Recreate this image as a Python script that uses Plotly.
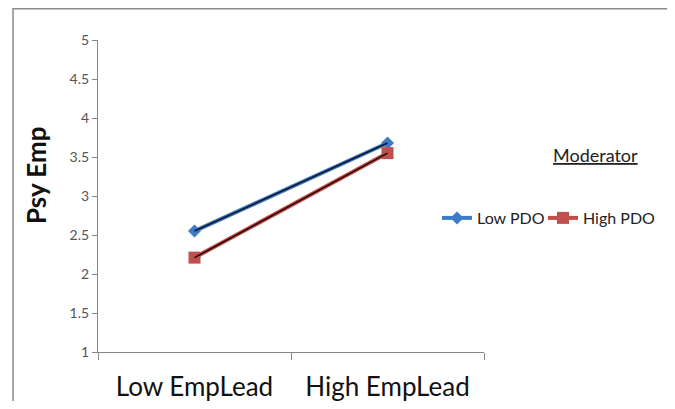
import plotly.graph_objects as go

categories = ["Low EmpLead", "High EmpLead"]
low_pdo = [2.55, 3.68]
high_pdo = [2.21, 3.55]
y_ticks = [1, 1.5, 2, 2.5, 3, 3.5, 4, 4.5, 5]
y_ticktext = ["1", "1.5", "2", "2.5", "3", "3.5", "4", "4.5", "5"]

FONT = "Lato"
fig = go.Figure()
fig.add_trace(go.Scatter(x=categories, y=low_pdo, mode="lines+markers", name="Low PDO",
                         line=dict(color="#3E7BC6", width=4), legend="legend",
                         marker=dict(symbol="diamond", size=10, color="#3E7BC6")))
fig.add_trace(go.Scatter(x=categories, y=low_pdo, mode="lines", showlegend=False,
                         line=dict(color="#10182A", width=1.6), hoverinfo="skip"))
fig.add_trace(go.Scatter(x=categories, y=high_pdo, mode="lines+markers", name="High PDO",
                         line=dict(color="#C84A46", width=4), legend="legend2",
                         marker=dict(symbol="square", size=12, color="#C0504D")))
fig.add_trace(go.Scatter(x=categories, y=high_pdo, mode="lines", showlegend=False,
                         line=dict(color="#200A0A", width=1.6), hoverinfo="skip"))


def px_x(p):
    return (p - 98) / 386


def px_y(p):
    return (352 - p) / 312


leg_common = dict(orientation="h", xanchor="left", yanchor="middle", y=px_y(218),
                  font=dict(size=16, family=FONT, color="#222"),
                  bgcolor="rgba(0,0,0,0)")

# plot area in page pixels: x 98..484, y 40..352 (page has 8px body margin)
fig.update_layout(
    width=666, height=393,
    margin=dict(l=90, r=190, t=32, b=49, autoexpand=False),
    paper_bgcolor="white", plot_bgcolor="white",
    font=dict(family=FONT, color="#222"),
    showlegend=True,
    legend=dict(x=px_x(437), **leg_common),
    legend2=dict(x=px_x(543), **leg_common),
    xaxis=dict(type="category", range=[-0.5, 1.5], showgrid=False, showline=True,
               linecolor="#868686", linewidth=1.2, ticks="outside", ticklen=7,
               tickcolor="#868686", tickson="boundaries", automargin=False,
               tickfont=dict(size=26, family=FONT, color="#111"), ticklabelstandoff=12),
    yaxis=dict(range=[1, 5], tickvals=y_ticks, ticktext=y_ticktext, showgrid=False,
               showline=True, linecolor="#868686", linewidth=1.2, ticks="outside",
               ticklen=5, tickcolor="#868686", zeroline=False, automargin=False,
               tickfont=dict(size=14, family=FONT, color="#555")),
    shapes=[dict(type="rect", xref="paper", yref="paper",
                 x0=px_x(13), x1=px_x(671.5),
                 y0=-0.3, y1=px_y(8.7), line=dict(color="#8C8C8C", width=1.5))],
    annotations=[
        dict(text="<u>Moderator</u>", xref="paper", yref="paper",
             x=px_x(595), y=px_y(155), xanchor="center", yanchor="middle",
             showarrow=False, font=dict(size=18, family=FONT, color="#222")),
        dict(text="<b>Psy Emp</b>", xref="paper", yref="paper", textangle=-90,
             x=px_x(36), y=px_y(175), xanchor="center", yanchor="middle",
             showarrow=False, font=dict(size=26, family=FONT, color="#111")),
    ],
)
fig.write_html("out.html")
